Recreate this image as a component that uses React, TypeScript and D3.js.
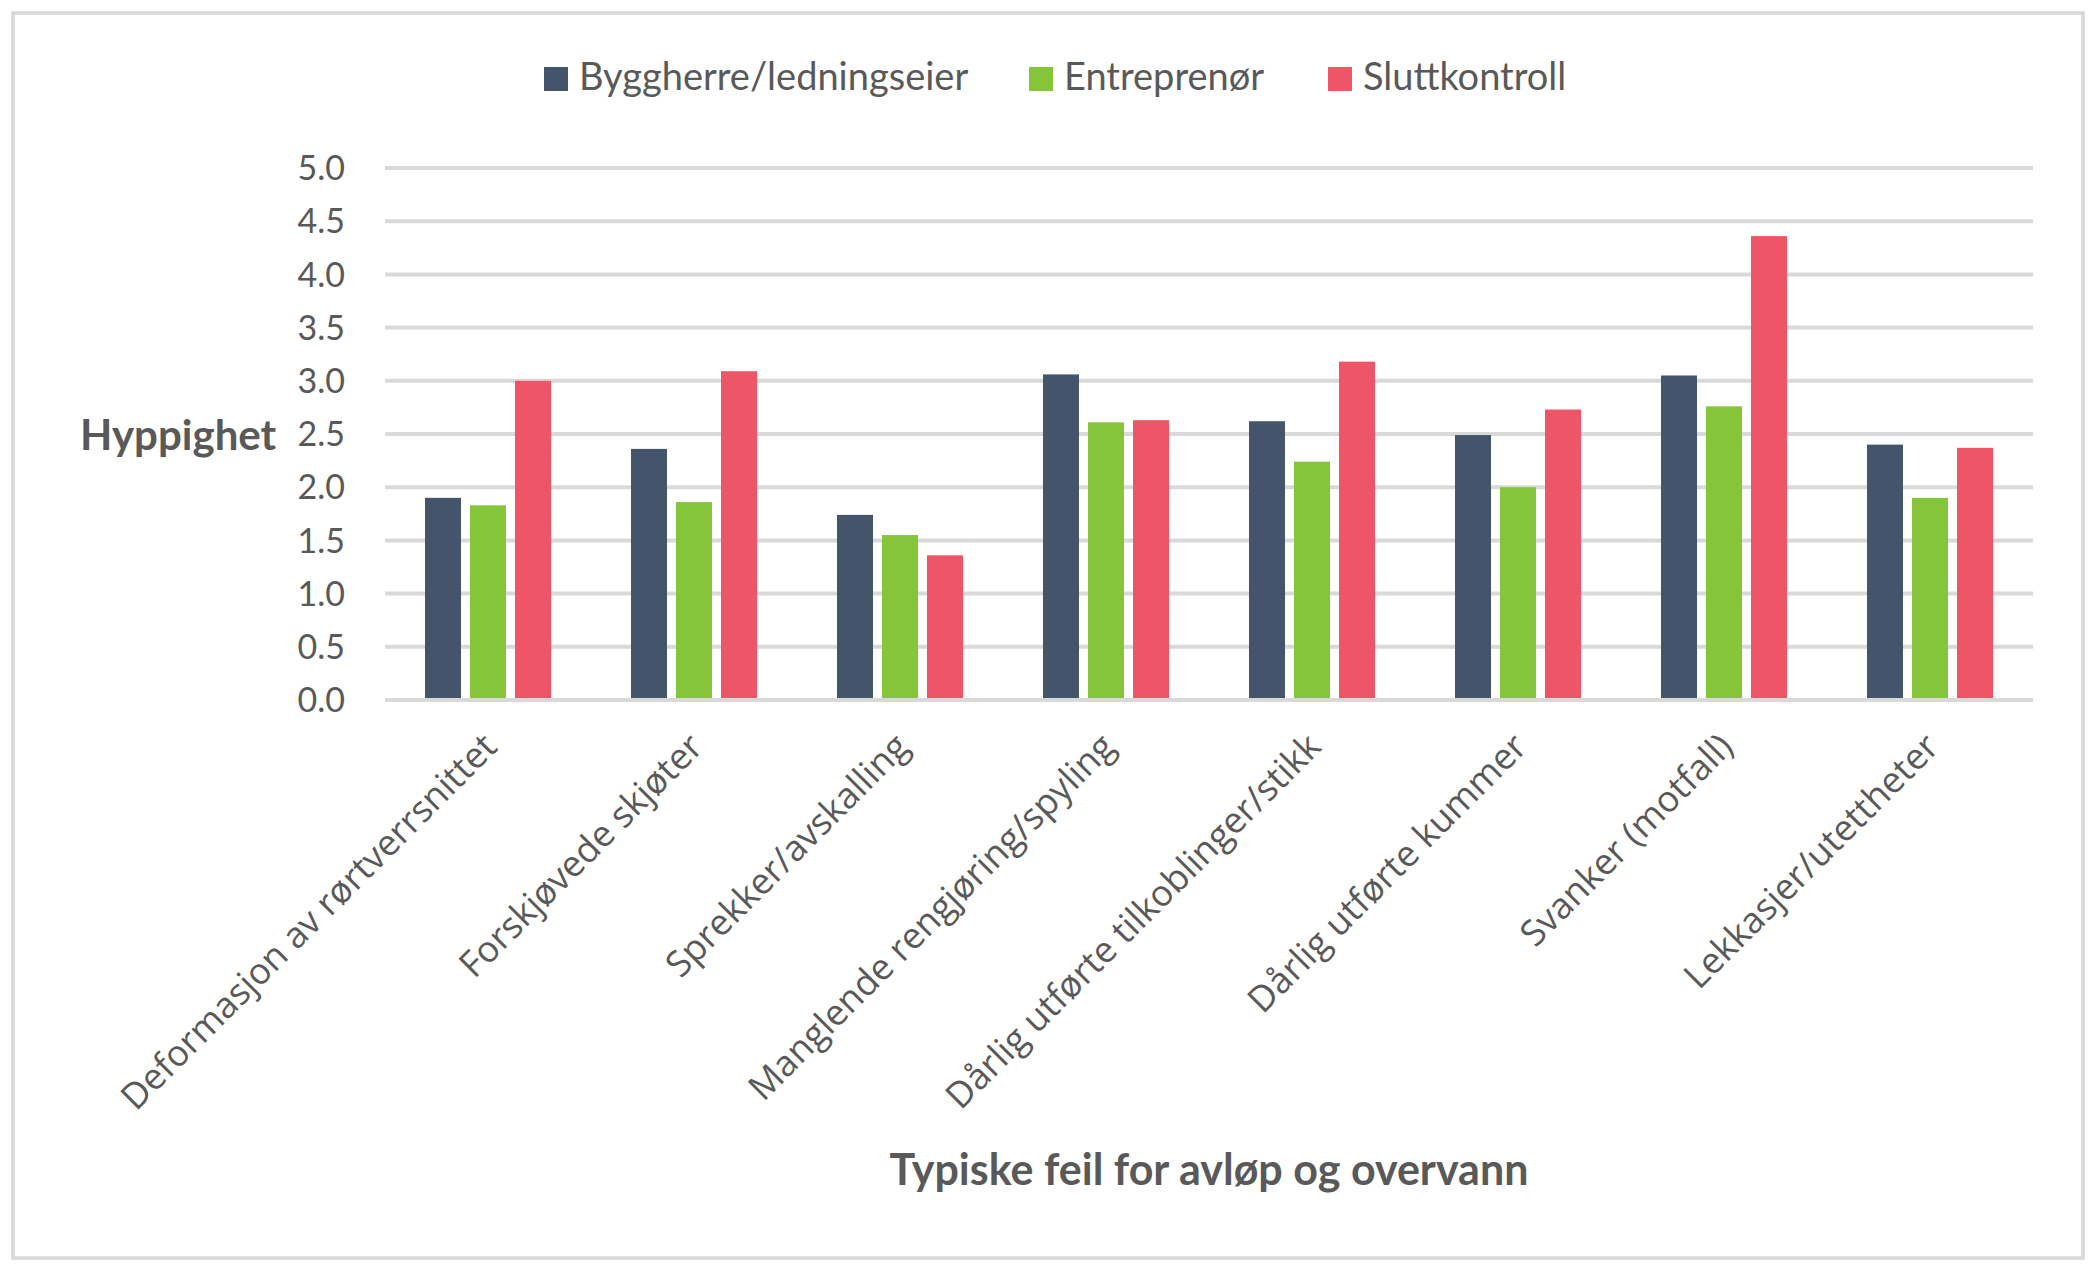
import React from 'react';
import * as d3 from 'd3';

const categories = [
  'Deformasjon av rørtverrsnittet',
  'Forskjøvede skjøter',
  'Sprekker/avskalling',
  'Manglende rengjøring/spyling',
  'Dårlig utførte tilkoblinger/stikk',
  'Dårlig utførte kummer',
  'Svanker (motfall)',
  'Lekkasjer/utettheter',
];

const seriesNames = ['Byggherre/ledningseier', 'Entreprenør', 'Sluttkontroll'];
const seriesColors = ['#44546A', '#84C53A', '#EE5566'];

const byggherre = [1.9, 2.36, 1.74, 3.06, 2.62, 2.49, 3.05, 2.4];
const entreprenor = [1.83, 1.86, 1.55, 2.61, 2.24, 2.0, 2.76, 1.9];
const sluttkontroll = [3.0, 3.09, 1.36, 2.63, 3.18, 2.73, 4.36, 2.37];

const yTicks = [0, 0.5, 1, 1.5, 2, 2.5, 3, 3.5, 4, 4.5, 5];

const W = 2100;
const H = 1270;
const TEXT = '#595959';
const GRID = '#D9D9D9';

export default function App() {
  const seriesValues = [byggherre, entreprenor, sluttkontroll];

  const x0 = d3.scaleBand<string>().domain(categories).range([385, 2033]);
  const groupWidth = 126;
  const x1 = d3.scaleBand<string>().domain(seriesNames).range([0, groupWidth]).paddingInner(0.2);
  const y = d3.scaleLinear().domain([0, 5]).range([700, 168]);

  const legendX = [544, 1029, 1328];

  return (
    <svg width={W} height={H} style={{ position: 'absolute', left: 0, top: 0, background: '#fff' }}>
      <rect x={0} y={0} width={W} height={H} fill="#fff" />
      <rect x={13} y={13} width={2070} height={1245} fill="none" stroke={GRID} strokeWidth={3.5} />

      {/* legend */}
      {seriesNames.map((s, i) => (
        <g key={s}>
          <rect x={legendX[i]} y={67} width={24} height={24} fill={seriesColors[i]} />
          <text x={legendX[i] + 35} y={90} fill={TEXT} fontFamily="Lato" fontSize={38}>
            {s}
          </text>
        </g>
      ))}

      {/* gridlines + y tick labels */}
      {yTicks.map((t) => (
        <g key={t}>
          <line x1={385} x2={2033} y1={y(t)} y2={y(t)} stroke={GRID} strokeWidth={4} />
          <text
            x={345}
            y={y(t)}
            dy="0.36em"
            textAnchor="end"
            fill={TEXT}
            fontFamily="Lato"
            fontSize={34}
          >
            {d3.format('.1f')(t)}
          </text>
        </g>
      ))}

      {/* bars */}
      {categories.map((c, ci) => {
        const gx = (x0(c) as number) + (x0.bandwidth() - groupWidth) / 2;
        return (
          <g key={c} transform={`translate(${gx},0)`}>
            {seriesNames.map((s, si) => {
              const v = seriesValues[si][ci];
              return (
                <rect
                  key={s}
                  x={x1(s)}
                  y={y(v)}
                  width={x1.bandwidth()}
                  height={y(0) - y(v) - 2}
                  fill={seriesColors[si]}
                />
              );
            })}
          </g>
        );
      })}

      {/* category labels */}
      {categories.map((c) => {
        const cx = (x0(c) as number) + x0.bandwidth() / 2;
        return (
          <text
            key={c}
            transform={`translate(${cx + 2},${740}) rotate(-45)`}
            dy="0.35em"
            textAnchor="end"
            fill={TEXT}
            fontFamily="Open Sans"
            fontSize={36}
          >
            {c}
          </text>
        );
      })}

      {/* axis titles */}
      <text x={80} y={450} fill={TEXT} fontFamily="Lato" fontWeight="bold" fontSize={42}>
        Hyppighet
      </text>
      <text x={1209} y={1185} textAnchor="middle" fill={TEXT} fontFamily="Lato" fontWeight="bold" fontSize={43}>
        Typiske feil for avløp og overvann
      </text>
    </svg>
  );
}
